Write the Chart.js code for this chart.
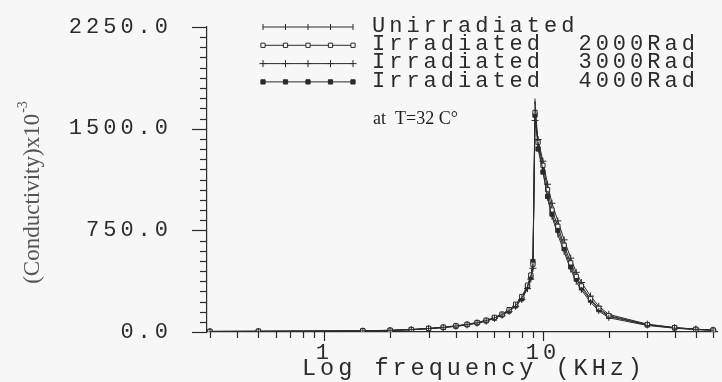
<!DOCTYPE html>
<html>
<head>
<meta charset="utf-8">
<script src="https://cdn.jsdelivr.net/npm/chart.js@4.4.1/dist/chart.umd.min.js"></script>
<style>
  html, body { margin: 0; padding: 0; background: #f7f7f8; }
  #myChart { display: block; }
</style>
</head>
<body>
<canvas id="myChart" width="722" height="382"></canvas>
<script>
// frequencies in KHz (log axis)
const freqKHz = [0.3, 0.5, 1.5, 2.0, 2.5, 3.0, 3.5, 4.0, 4.5, 5.0, 5.5, 6.0, 6.5, 7.0, 7.5, 8.0, 8.5, 8.8, 9.0, 9.2,
                 9.5, 10.0, 10.5, 11.0, 11.7, 12.5, 13.4, 14.2, 15.0, 16.5, 18.0, 20.0, 30.0, 40.0, 50.0, 60.0];

// conductivity x10^-3
const unirradiated = [4, 5, 8, 12, 18, 26, 34, 44, 55, 68, 84, 104, 128, 158, 196, 250, 330, 400, 480, 1700,
                      1380, 1190, 990, 850, 720, 590, 460, 370, 310, 220, 155, 105, 48, 28, 18, 12];
const rad2000 = [5, 6, 9, 13, 19, 27, 36, 46, 57, 70, 87, 108, 132, 165, 205, 262, 345, 420, 500, 1620,
                 1400, 1230, 1050, 900, 780, 640, 510, 410, 340, 245, 175, 120, 55, 32, 20, 14];
const rad3000 = [3, 4, 7, 11, 16, 24, 32, 42, 52, 65, 80, 100, 124, 152, 190, 240, 320, 390, 470, 1560,
                 1420, 1260, 1090, 950, 820, 680, 545, 440, 365, 265, 190, 130, 58, 33, 21, 14];
const rad4000 = [4, 5, 8, 12, 17, 25, 33, 43, 54, 67, 82, 102, 126, 155, 193, 245, 335, 405, 520, 1600,
                 1350, 1180, 1000, 870, 750, 615, 480, 390, 325, 235, 165, 115, 52, 30, 19, 13];

const seriesLabels = ['Unirradiated', 'Irradiated  2000Rad', 'Irradiated  3000Rad', 'Irradiated  4000Rad'];
const yTickValues = [0, 750, 1500, 2250];
const xLabelled = [1, 10];

const ink = '#2b2b2b';
const paper = '#f7f7f8';
const mono = '"Liberation Mono", "DejaVu Sans Mono", monospace';
const serif = '"Liberation Serif", "DejaVu Serif", serif';

function pts(ys) {
    return freqKHz.map((f, i) => ({ x: f, y: ys[i] }));
}

const styles = [
    { pointStyle: 'line', rotation: 90, radius: 3, fill: ink },
    { pointStyle: 'rect', rotation: 0, radius: 3, fill: paper },
    { pointStyle: 'cross', rotation: 0, radius: 3.5, fill: ink },
    { pointStyle: 'rect', rotation: 0, radius: 3, fill: ink }
];

const allSeries = [unirradiated, rad2000, rad3000, rad4000];
const datasets = allSeries.map((ys, i) => ({
    label: seriesLabels[i],
    data: pts(ys),
    borderColor: ink,
    borderWidth: 1,
    pointStyle: styles[i].pointStyle,
    rotation: styles[i].rotation,
    pointRadius: styles[i].radius,
    pointBorderWidth: 1,
    pointBorderColor: ink,
    pointBackgroundColor: styles[i].fill,
    tension: 0
}));

function marker(ctx, s, x, y) {
    ctx.save();
    ctx.strokeStyle = ink;
    ctx.fillStyle = s.fill;
    ctx.lineWidth = 1;
    if (Chart.helpers && Chart.helpers.drawPoint) {
        Chart.helpers.drawPoint(ctx, { pointStyle: s.pointStyle, rotation: s.rotation, radius: s.radius, borderWidth: 1 }, x, y);
    } else {
        ctx.beginPath();
        ctx.rect(x - s.radius, y - s.radius, s.radius * 2, s.radius * 2);
        ctx.fill();
        ctx.stroke();
    }
    ctx.restore();
}

const paperPlugin = {
    id: 'paper',
    beforeDraw(chart) {
        const ctx = chart.ctx;
        ctx.save();
        ctx.fillStyle = paper;
        ctx.fillRect(0, 0, chart.width, chart.height);
        ctx.restore();
        ctx.letterSpacing = '4px';
    },
    afterDraw(chart) {
        const ctx = chart.ctx;
        const xs = chart.scales.x, ys = chart.scales.y;
        const area = chart.chartArea;
        ctx.save();
        ctx.strokeStyle = ink;
        ctx.lineWidth = 1.2;

        // y tick marks
        for (let v = 0; v <= 2250; v += 75) {
            const py = Math.round(ys.getPixelForValue(v)) + 0.5;
            const len = v % 750 === 0 ? 15 : 7;
            ctx.beginPath();
            ctx.moveTo(area.left - len, py);
            ctx.lineTo(area.left, py);
            ctx.stroke();
        }
        // x tick marks (log)
        const xTicks = [];
        for (const dec of [0.1, 1, 10]) {
            for (let k = 1; k <= 9; k++) xTicks.push(dec * k);
        }
        xTicks.push(100);
        xTicks.forEach(v => {
            if (v < xs.min || v > xs.max) return;
            const px = Math.round(xs.getPixelForValue(v)) + 0.5;
            const len = xLabelled.some(t => Math.abs(t - v) < 1e-9) ? 9 : 6;
            ctx.beginPath();
            ctx.moveTo(px, area.bottom);
            ctx.lineTo(px, area.bottom + len);
            ctx.stroke();
        });

        // legend
        const legX0 = 263, legX1 = 353, legY0 = 27, legStep = 18.3;
        chart.data.datasets.forEach((ds, i) => {
            const y = legY0 + i * legStep;
            ctx.beginPath();
            ctx.lineWidth = 1;
            ctx.moveTo(legX0, y);
            ctx.lineTo(legX1, y);
            ctx.stroke();
            for (let k = 0; k < 5; k++) {
                marker(ctx, styles[i], legX0 + k * (legX1 - legX0) / 4, y);
            }
            ctx.fillStyle = ink;
            ctx.font = '22px ' + mono;
            ctx.letterSpacing = '4px';
            ctx.textAlign = 'left';
            ctx.textBaseline = 'middle';
            ctx.fillText(ds.label, 372, y - 1);
        });

        // x axis title
        ctx.font = '23.5px ' + mono;
        ctx.letterSpacing = '4px';
        ctx.textAlign = 'left';
        ctx.textBaseline = 'middle';
        ctx.fillText('Log frequency (KHz)', 302, 369);

        // temperature note
        ctx.letterSpacing = '0px';
        ctx.font = '18px ' + serif;
        ctx.fillStyle = '#1e1e1e';
        ctx.fillText('at  T=32 C\u00b0', 373, 119);

        // y axis title, rotated
        ctx.translate(33, 193);
        ctx.rotate(-Math.PI / 2);
        ctx.fillStyle = '#555';
        ctx.font = '23px ' + serif;
        const main = '(Conductivity)x10';
        const wMain = ctx.measureText(main).width;
        ctx.font = '14px ' + serif;
        const sup = '-3';
        const wSup = ctx.measureText(sup).width;
        const start = -(wMain + wSup) / 2;
        ctx.font = '23px ' + serif;
        ctx.fillText(main, start, 0);
        ctx.font = '14px ' + serif;
        ctx.fillText(sup, start + wMain + 1, -10);
        ctx.restore();
        ctx.letterSpacing = '4px';
    }
};

const ctx = document.getElementById('myChart').getContext('2d');
const myChart = new Chart(ctx, {
    type: 'line',
    data: { datasets: datasets },
    options: {
        responsive: false,
        animation: false,
        devicePixelRatio: 1,
        layout: { padding: { top: 27, right: 2, left: 0, bottom: 0 } },
        plugins: {
            legend: { display: false },
            tooltip: { enabled: false }
        },
        scales: {
            x: {
                type: 'logarithmic',
                min: 0.291,
                max: 62.5,
                grid: { display: false, drawTicks: false },
                border: { display: true, color: ink, width: 1.2 },
                afterFit(scale) {
                    scale.height = 50;
                    scale.paddingLeft = 0;
                    scale.paddingRight = 0;
                },
                ticks: {
                    autoSkip: false,
                    maxRotation: 0,
                    padding: 8,
                    color: ink,
                    font: { family: mono, size: 22 },
                    callback(v) {
                        const hit = xLabelled.find(t => Math.abs(t - v) < 1e-9);
                        return hit !== undefined ? String(hit) : '';
                    }
                }
            },
            y: {
                min: 0,
                max: 2250,
                grid: { display: false, drawTicks: false },
                border: { display: true, color: ink, width: 1.2 },
                afterFit(scale) {
                    scale.width = 207;
                    scale.paddingTop = 0;
                    scale.paddingBottom = 0;
                },
                afterBuildTicks(scale) { scale.ticks = yTickValues.map(v => ({ value: v })); },
                ticks: {
                    padding: 35,
                    color: ink,
                    font: { family: mono, size: 22 },
                    callback(v) { return Number(v).toFixed(1); }
                }
            }
        }
    },
    plugins: [paperPlugin]
});
</script>
</body>
</html>
